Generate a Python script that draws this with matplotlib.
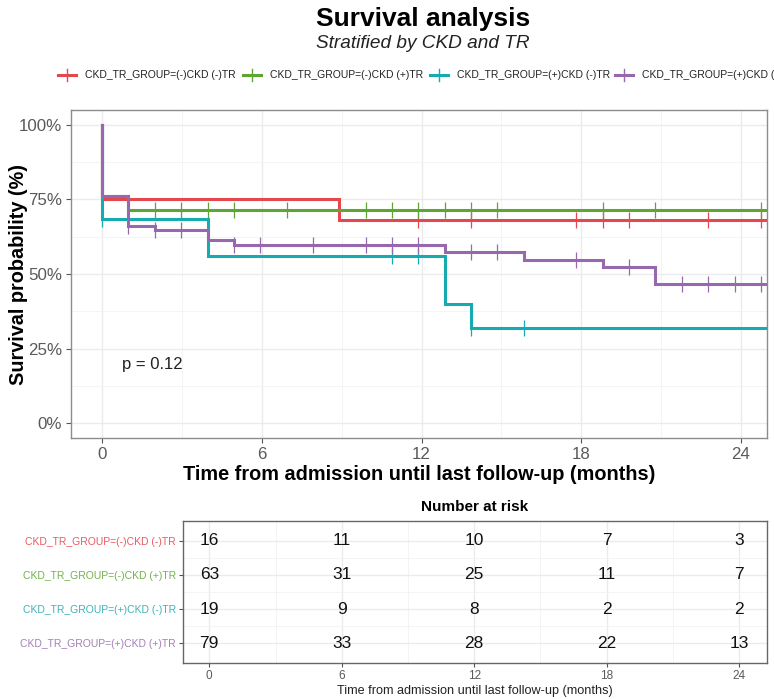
"""Kaplan-Meier curves stratified by CKD and TR, with number-at-risk table"""

import numpy as np
import matplotlib
matplotlib.use("Agg")
import matplotlib.pyplot as plt
from matplotlib import font_manager
from matplotlib.lines import Line2D

# -----------------------------------------------------------------------------
# Data
GROUPS = ["CKD_TR_GROUP=(-)CKD (-)TR", "CKD_TR_GROUP=(-)CKD (+)TR",
          "CKD_TR_GROUP=(+)CKD (-)TR", "CKD_TR_GROUP=(+)CKD (+)TR"]

# step times (months) and survival right after each step
red_t = [0.0, 0.0, 8.91]
red_s = [1.0, 0.750, 0.682]
red_cens = [11.88, 13.86, 17.82, 18.81, 19.80, 22.77, 24.75]

green_t = [0.0, 0.0, 0.99]
green_s = [1.0, 0.762, 0.714]
green_cens = [1.98, 2.97, 3.96, 4.95, 6.93, 9.90, 10.89, 11.88, 12.87, 13.86,
              14.85, 18.81, 20.79, 24.75]

cyan_t = [0.0, 0.0, 3.96, 12.87, 13.86]
cyan_s = [1.0, 0.686, 0.561, 0.401, 0.318]
cyan_cens = [0.0, 10.89, 11.88, 13.86, 15.84]

purple_t = [0.0, 0.0, 0.99, 1.98, 3.96, 4.95, 12.87, 15.84, 18.81, 20.79]
purple_s = [1.0, 0.762, 0.662, 0.646, 0.613, 0.596, 0.574, 0.548, 0.524, 0.467]
purple_cens = [0.99, 1.98, 2.97, 4.95, 5.94, 7.92, 9.90, 10.89, 11.88, 13.86,
               14.85, 17.82, 19.80, 21.78, 22.77, 23.76, 24.75]

RISK_TIMES = [0, 6, 12, 18, 24]
risk_red = [16, 11, 10, 7, 3]
risk_green = [63, 31, 25, 11, 7]
risk_cyan = [19, 9, 8, 2, 2]
risk_purple = [79, 33, 28, 22, 13]

P_VALUE = "p = 0.12"

# -----------------------------------------------------------------------------
COLORS = ["#E5474F", "#5EA634", "#16ABB1", "#9868AE"]
LABEL_COLORS = ["#E85A62", "#72B24A", "#3BB3B9", "#A57DB8"]
W, H = 774, 699
DPI = 100

names = {f.name for f in font_manager.fontManager.ttflist}
FONT = "Liberation Sans Narrow" if "Liberation Sans Narrow" in names else "Liberation Sans"
plt.rcParams["font.family"] = [FONT, "DejaVu Sans"]

GRID = "#EBEBEB"
BORDER = "#8C8C8C"
TICKTXT = "#5A5A5A"


def fx(px):
    return px / W


def fy(py):
    return 1 - py / H


curves = [(red_t, red_s, red_cens), (green_t, green_s, green_cens),
          (cyan_t, cyan_s, cyan_cens), (purple_t, purple_s, purple_cens)]
risks = [risk_red, risk_green, risk_cyan, risk_purple]

fig = plt.figure(figsize=(W / DPI, H / DPI), dpi=DPI)

# Titles
fig.text(fx(423), fy(19), "Survival analysis", ha="center", va="center",
         fontsize=19, fontweight="bold", color="black")
fig.text(fx(423), fy(43), "Stratified by CKD and TR", ha="center",
         va="center", fontsize=13.7, fontstyle="italic", color="#222222")

# -----------------------------------------------------------------------------
# Survival panel
ax = fig.add_axes([fx(71), fy(438), fx(767 - 71), (438 - 110) / H])
XLIM = (-1.17, 24.98)
END_T = 25.5

for i, (t, s, cens) in enumerate(curves):
    tt = np.append(t, END_T)
    ss = np.append(s, s[-1])
    ax.step(tt, ss, where="post", color=COLORS[i], linewidth=2.2,
            solid_joinstyle="miter", zorder=3 + i * 0.1)
    idx = np.searchsorted(t, cens, side="right") - 1
    ax.plot(cens, np.asarray(s)[idx], linestyle="none", marker="|",
            markersize=11, markeredgewidth=0.9, color=COLORS[i],
            zorder=3 + i * 0.1)

ax.set_xlim(XLIM)
ax.set_ylim(-0.05, 1.05)
ax.set_xticks([0, 6, 12, 18, 24])
ax.set_xticks([3, 9, 15, 21], minor=True)
ax.set_yticks([0, 0.25, 0.5, 0.75, 1.0])
ax.set_yticks([0.125, 0.375, 0.625, 0.875], minor=True)
ax.set_yticklabels(["0%", "25%", "50%", "75%", "100%"])
ax.grid(which="major", color=GRID, linewidth=1.0)
ax.grid(which="minor", color="#F3F3F3", linewidth=0.6)
ax.set_axisbelow(True)
for sp in ax.spines.values():
    sp.set_color(BORDER)
    sp.set_linewidth(1.0)
ax.tick_params(which="major", length=3.5, color="#555555", labelsize=12.2,
               labelcolor=TICKTXT, pad=3)
ax.tick_params(which="minor", length=0)
ax.set_xlabel("Time from admission until last follow-up (months)",
              fontsize=14.3, fontweight="bold", labelpad=2)
fig.text(fx(19), fy(274), "Survival probability (%)", rotation=90,
         ha="center", va="center", fontsize=14.3, fontweight="bold")
ax.text(0.75, 0.195, P_VALUE, fontsize=12, ha="left", va="center",
        color="#222222")

# Legend along the top (runs off the right edge like the original)
leg_x = [58, 243, 430, 615]
for i, g in enumerate(GROUPS):
    fig.add_artist(Line2D([fx(leg_x[i]), fx(leg_x[i] + 18)], [fy(75), fy(75)],
                          color=COLORS[i], linewidth=2.2))
    fig.add_artist(Line2D([fx(leg_x[i] + 9)] * 2, [fy(69), fy(81)],
                          color=COLORS[i], linewidth=1.0))
    fig.text(fx(leg_x[i] + 27), fy(75), g, fontsize=7.5, ha="left",
             va="center", color="#222222")

# -----------------------------------------------------------------------------
# Number at risk table
ax2 = fig.add_axes([fx(183), fy(663), fx(767 - 183), (663 - 521) / H])
for i, r in enumerate(risks):
    for t, n in zip(RISK_TIMES, r):
        ax2.text(t, i + 1, str(n), ha="center", va="center", fontsize=12.5,
                 color="#111111")
ax2.set_xlim(-1.19, 25.26)
ax2.set_ylim(4.58, 0.42)
ax2.set_xticks(RISK_TIMES)
ax2.set_xticks([3, 9, 15, 21], minor=True)
ax2.set_yticks([1, 2, 3, 4])
ax2.set_yticks([1.5, 2.5, 3.5], minor=True)
ax2.set_yticklabels(GROUPS)
for lab, c in zip(ax2.get_yticklabels(), LABEL_COLORS):
    lab.set_color(c)
ax2.grid(which="major", color=GRID, linewidth=1.0)
ax2.grid(which="minor", color="#F3F3F3", linewidth=0.6)
ax2.set_axisbelow(True)
for sp in ax2.spines.values():
    sp.set_color("#666666")
    sp.set_linewidth(1.0)
ax2.tick_params(axis="y", which="major", length=3, color="#555555",
                labelsize=7.5, pad=2)
ax2.tick_params(axis="x", which="major", length=3, color="#555555",
                labelsize=8.5, labelcolor=TICKTXT, pad=2)
ax2.tick_params(which="minor", length=0)
ax2.set_xlabel("Time from admission until last follow-up (months)",
               fontsize=9.1, labelpad=2, color="#222222")
ax2.set_title("Number at risk", fontsize=11, fontweight="bold", pad=7)

plt.savefig("out.png", dpi=DPI)
